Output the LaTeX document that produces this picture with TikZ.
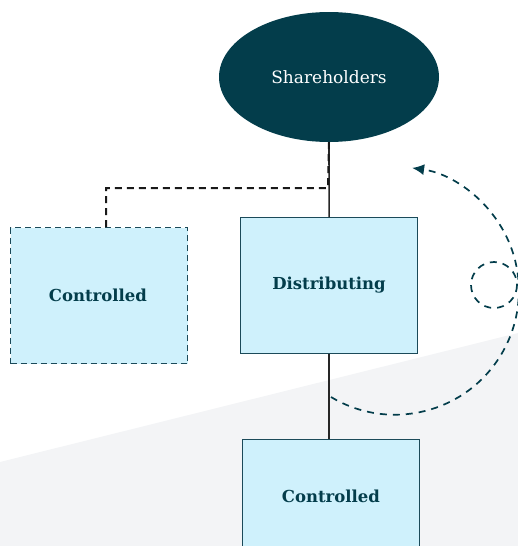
\documentclass[tikz,border=0pt]{standalone}
\usepackage{fontspec}
\setmainfont{DejaVu Serif}
\usetikzlibrary{arrows.meta,shapes.geometric}
\definecolor{teal}{HTML}{033D4B}
\definecolor{boxfill}{HTML}{CFF1FC}
\definecolor{boxline}{HTML}{1B4A59}
\definecolor{bggray}{HTML}{F3F4F6}
\tikzset{
  entity/.style={draw=boxline, line width=1.3pt, fill=boxfill, minimum width=177pt, minimum height=136pt, inner sep=0pt},
  label/.style={text=teal, font=\fontsize{16.5}{19}\selectfont\bfseries},
  tie/.style={draw=black!85, line width=1.6pt},
  ctrl/.style={draw=black!90, line width=2pt, dash pattern=on 7pt off 5pt},
  loop/.style={draw=teal, line width=1.7pt, dash pattern=on 7pt off 6pt}
}
\begin{document}
\begin{tikzpicture}[x=1pt,y=-1pt]
\useasboundingbox (0,0) rectangle (518,546);
\fill[bggray] (0,462) -- (518,333) -- (518,546) -- (0,546) -- cycle;
\node[ellipse, fill=teal, minimum width=220pt, minimum height=130pt, text=white, font=\fontsize{17}{20}\selectfont] (sh) at (329,77) {Shareholders};
\node[entity, anchor=north west] (dist) at (240,217) {};
\node[label] (distl) at (329,285) {Distributing};
\node[entity, dash pattern=on 6pt off 4pt, anchor=north west] (lc) at (10,227) {};
\node[label] (lcl) at (98,295) {Controlled};
\node[entity, anchor=north west] (bc) at (242,439) {};
\node[label] (bcl) at (331,496) {Controlled};
\draw[tie] (sh.south) -- (dist.north);
\draw[tie] (dist.south) -- (dist.south |- bc.north);
\coordinate (bend) at (328,188);
\coordinate (lctop) at (106,227);
\draw[ctrl] (sh.south) -- (bend) -| (lctop);
\draw[loop, -{Latex[length=12pt,width=11pt]}] (331,397) arc[start angle=121, end angle=-82, radius=124];
\draw[loop] (494,285) circle[radius=23];
\end{tikzpicture}
\end{document}
